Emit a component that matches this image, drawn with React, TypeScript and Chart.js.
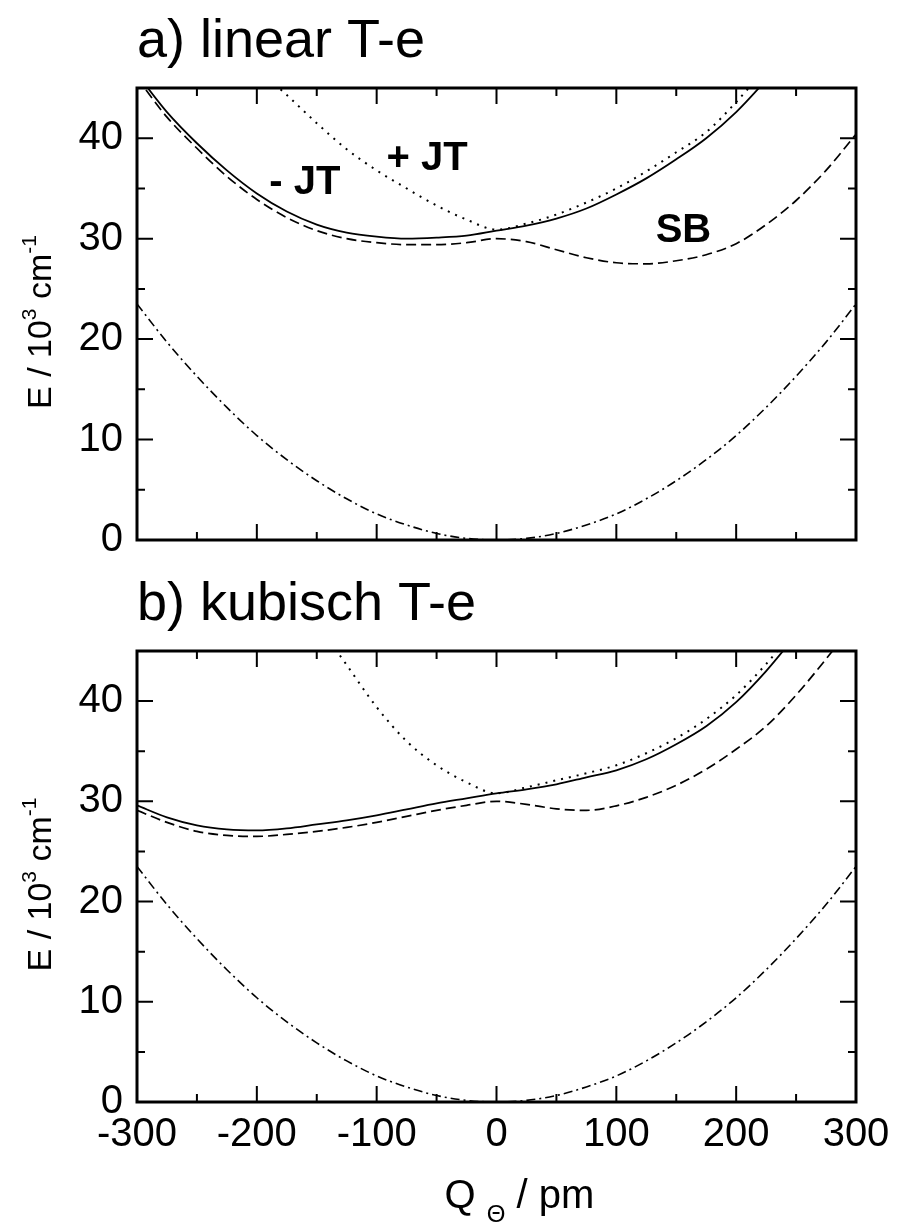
import React, { useEffect, useRef } from 'react';
import { Chart, registerables } from 'chart.js';

Chart.register(...registerables);

const FONT = '"Liberation Sans", Arial, Helvetica, sans-serif';

// Q_Θ sampling (pm)
const qFull = [-300, -275, -250, -225, -200, -175, -150, -125, -100, -75, -50, -25, 0, 25, 50, 75, 100, 125, 150, 175, 200, 225, 250, 275, 300];
const qToRight250 = [-300, -275, -250, -225, -200, -175, -150, -125, -100, -75, -50, -25, 0, 25, 50, 75, 100, 125, 150, 175, 200, 225, 250];

// a) linear T-e  (E in 10^3 cm^-1)
const linSolidQ = qToRight250;
const linSolidE = [46.4, 42.6, 39.5, 36.8, 34.5, 32.7, 31.4, 30.6, 30.2, 30.0, 30.1, 30.3, 30.8, 31.3, 32.0, 33.0, 34.4, 36.0, 37.9, 40.0, 42.6, 45.8, 49.3];
const linDotQ = [-200, -175, -150, -125, -100, -75, -50, -25, 0, 25, 50, 75, 100, 125, 150, 175, 200, 225];
const linDotE = [47.0, 44.3, 41.5, 38.9, 36.8, 35.0, 33.3, 31.9, 30.9, 31.5, 32.4, 33.6, 35.0, 36.7, 38.6, 40.6, 43.6, 47.0];
const linDashQ = qFull;
const linDashE = [46.0, 42.1, 39.0, 36.2, 33.9, 32.1, 30.8, 30.0, 29.6, 29.4, 29.4, 29.6, 30.0, 29.7, 28.9, 28.1, 27.6, 27.5, 27.8, 28.4, 29.5, 31.4, 33.8, 36.8, 40.4];
const linGroundQ = qFull;
const linGroundE = [23.5, 19.7, 16.3, 13.2, 10.4, 8.0, 5.9, 4.1, 2.6, 1.5, 0.65, 0.16, 0, 0.16, 0.65, 1.5, 2.6, 4.1, 5.9, 8.0, 10.4, 13.2, 16.3, 19.7, 23.5];

// b) kubisch T-e
const kubSolidQ = qToRight250;
const kubSolidE = [29.6, 28.4, 27.6, 27.2, 27.1, 27.3, 27.7, 28.1, 28.6, 29.2, 29.8, 30.3, 30.8, 31.2, 31.7, 32.4, 33.1, 34.2, 35.7, 37.5, 39.9, 43.0, 46.6];
const kubDotQ = [-150, -125, -100, -75, -50, -25, 0, 25, 50, 75, 100, 125, 150, 175, 200, 225, 250];
const kubDotE = [47.8, 43.6, 39.4, 36.0, 33.6, 31.9, 30.8, 31.4, 32.1, 32.8, 33.6, 34.8, 36.3, 38.2, 40.6, 43.7, 47.3];
const kubDashQ = qFull;
const kubDashE = [29.1, 27.9, 27.0, 26.6, 26.5, 26.7, 27.0, 27.4, 27.9, 28.5, 29.1, 29.6, 30.0, 29.7, 29.25, 29.1, 29.55, 30.4, 31.6, 33.2, 35.2, 37.5, 40.6, 44.2, 48.0];
const kubGroundQ = qFull;
const kubGroundE = [23.5, 19.7, 16.3, 13.2, 10.4, 8.0, 5.9, 4.1, 2.6, 1.5, 0.65, 0.16, 0, 0.16, 0.65, 1.5, 2.6, 4.1, 5.9, 8.0, 10.4, 13.2, 16.3, 19.7, 23.5];

// axes
const X_MIN = -300;
const X_MAX = 300;
const Y_MIN = 0;
const Y_MAX = 45;
const xLabelTicks = [-300, -200, -100, 0, 100, 200, 300];
const yLabelTicks = [0, 10, 20, 30, 40];
const xMajor = [-300, -200, -100, 0, 100, 200, 300];
const xMinor = [-250, -150, -50, 50, 150, 250];
const yMajor = [0, 10, 20, 30, 40];
const yMinor = [5, 15, 25, 35, 45];

// curve labels in panel a)
const linLabels = [
  { text: '- JT', q: -160, e: 35.5 },
  { text: '+ JT', q: -58, e: 37.9 },
  { text: 'SB', q: 156, e: 30.8 },
];

type Lbl = { text: string; q: number; e: number };

const pts = (xs: number[], ys: number[]) => xs.map((x, i) => ({ x, y: ys[i] }));

const curve = (xs: number[], ys: number[], dash: number[], width: number) => ({
  data: pts(xs, ys),
  borderColor: '#000',
  borderWidth: width,
  borderDash: dash,
  pointRadius: 0,
  fill: false,
  cubicInterpolationMode: 'monotone' as const,
});

const DASH = [10, 5];
const DOT = [2, 6];
const DASHDOT = [9, 4, 2, 4];

const framePlugin = {
  id: 'frameDecor',
  afterDatasetsDraw(chart: any, _args: any, opts: any) {
    const { ctx, chartArea: a, scales } = chart;
    const x = scales.x;
    const y = scales.y;
    ctx.save();
    ctx.strokeStyle = '#000';
    ctx.fillStyle = '#000';
    ctx.lineCap = 'butt';
    ctx.lineWidth = 2;
    const tick = (vals: number[], len: number) => {
      vals.forEach((v) => {
        const px = x.getPixelForValue(v);
        ctx.beginPath();
        ctx.moveTo(px, a.bottom);
        ctx.lineTo(px, a.bottom - len);
        ctx.moveTo(px, a.top);
        ctx.lineTo(px, a.top + len);
        ctx.stroke();
      });
    };
    const ytick = (vals: number[], len: number) => {
      vals.forEach((v) => {
        const py = y.getPixelForValue(v);
        ctx.beginPath();
        ctx.moveTo(a.left, py);
        ctx.lineTo(a.left + len, py);
        ctx.moveTo(a.right, py);
        ctx.lineTo(a.right - len, py);
        ctx.stroke();
      });
    };
    tick(xMajor, 16);
    tick(xMinor, 8);
    ytick(yMajor, 16);
    ytick(yMinor, 8);
    ctx.lineWidth = 3;
    ctx.strokeRect(a.left, a.top, a.right - a.left, a.bottom - a.top);

    // panel title
    ctx.textAlign = 'left';
    ctx.textBaseline = 'alphabetic';
    ctx.font = `54px ${FONT}`;
    ctx.fillText(opts.title, a.left, a.top - 31);

    // curve labels
    ctx.font = `bold 40px ${FONT}`;
    ctx.textAlign = 'center';
    ctx.textBaseline = 'middle';
    (opts.labels as Lbl[]).forEach((l) => {
      ctx.fillText(l.text, x.getPixelForValue(l.q), y.getPixelForValue(l.e));
    });

    // y-axis title: E / 10^3 cm^-1
    const F = 34;
    const S = 21;
    ctx.save();
    ctx.translate(51, (a.top + a.bottom) / 2 + 8);
    ctx.rotate(-Math.PI / 2);
    ctx.textAlign = 'left';
    ctx.textBaseline = 'alphabetic';
    const parts = [
      { t: 'E / 10', f: F, dy: 0 },
      { t: '3', f: S, dy: -15 },
      { t: ' cm', f: F, dy: 0 },
      { t: '-1', f: S, dy: -15 },
    ];
    let total = 0;
    parts.forEach((p) => {
      ctx.font = `${p.f}px ${FONT}`;
      total += ctx.measureText(p.t).width;
    });
    let cx = -total / 2;
    parts.forEach((p) => {
      ctx.font = `${p.f}px ${FONT}`;
      ctx.fillText(p.t, cx, p.dy);
      cx += ctx.measureText(p.t).width;
    });
    ctx.restore();

    // x-axis title: Q_Θ / pm
    if (opts.xTitle) {
      ctx.textAlign = 'left';
      ctx.textBaseline = 'alphabetic';
      const base = a.bottom + 106;
      let px = (a.left + a.right) / 2 - 52;
      ctx.font = `40px ${FONT}`;
      ctx.fillText('Q', px, base);
      px += ctx.measureText('Q ').width;
      ctx.font = `24px ${FONT}`;
      ctx.fillText('\u0398', px, base + 14);
      px += ctx.measureText('\u0398').width;
      ctx.font = `40px ${FONT}`;
      ctx.fillText(' / pm', px, base);
    }
    ctx.restore();
  },
};

type PanelProps = {
  top: number;
  height: number;
  padTop: number;
  padBottom: number;
  xHeight: number;
  showXLabels: boolean;
  title: string;
  labels: Lbl[];
  xTitle: boolean;
  datasets: any[];
};

function Panel(p: PanelProps) {
  const ref = useRef<HTMLCanvasElement | null>(null);
  useEffect(() => {
    if (!ref.current) return;
    const tickFont = { family: FONT, size: 40 };
    const chart = new Chart(ref.current, {
      type: 'line',
      data: { datasets: p.datasets },
      plugins: [framePlugin],
      options: {
        animation: false,
        responsive: false,
        devicePixelRatio: 1,
        layout: { padding: { left: 0, right: 42, top: p.padTop, bottom: p.padBottom } },
        plugins: {
          legend: { display: false },
          tooltip: { enabled: false },
          title: { display: false },
          frameDecor: { title: p.title, labels: p.labels, xTitle: p.xTitle },
        } as any,
        scales: {
          x: {
            type: 'linear',
            min: X_MIN,
            max: X_MAX,
            afterBuildTicks: (s: any) => {
              s.ticks = xLabelTicks.map((v) => ({ value: v }));
            },
            afterFit: (s: any) => {
              s.height = p.xHeight;
              s.paddingLeft = 0;
              s.paddingRight = 0;
            },
            ticks: {
              display: p.showXLabels,
              font: tickFont,
              color: '#000',
              padding: 9,
              maxRotation: 0,
              autoSkip: false,
            },
            grid: { display: false, drawTicks: false },
            border: { display: false },
          },
          y: {
            type: 'linear',
            min: Y_MIN,
            max: Y_MAX,
            afterBuildTicks: (s: any) => {
              s.ticks = yLabelTicks.map((v) => ({ value: v }));
            },
            afterFit: (s: any) => {
              s.width = 137;
              s.paddingTop = 0;
              s.paddingBottom = 0;
            },
            ticks: { font: tickFont, color: '#000', padding: 14 },
            grid: { display: false, drawTicks: false },
            border: { display: false },
          },
        },
      } as any,
    });
    return () => chart.destroy();
  }, []);
  return (
    <canvas
      ref={ref}
      width={898}
      height={p.height}
      style={{ position: 'absolute', left: 0, top: p.top, width: 898, height: p.height }}
    />
  );
}

export default function App() {
  const linSets = [
    curve(linGroundQ, linGroundE, DASHDOT, 1.6),
    curve(linDashQ, linDashE, DASH, 1.7),
    curve(linDotQ, linDotE, DOT, 2),
    curve(linSolidQ, linSolidE, [], 1.8),
  ];
  const kubSets = [
    curve(kubGroundQ, kubGroundE, DASHDOT, 1.6),
    curve(kubDashQ, kubDashE, DASH, 1.7),
    curve(kubDotQ, kubDotE, DOT, 2),
    curve(kubSolidQ, kubSolidE, [], 1.8),
  ];
  return (
    <div style={{ position: 'absolute', left: 0, top: 0, width: 898, height: 1226, background: '#fff' }}>
      <Panel
        top={0}
        height={560}
        padTop={88}
        padBottom={20}
        xHeight={0}
        showXLabels={false}
        title="a) linear T-e"
        labels={linLabels}
        xTitle={false}
        datasets={linSets}
      />
      <Panel
        top={560}
        height={666}
        padTop={91}
        padBottom={54}
        xHeight={70}
        showXLabels={true}
        title="b) kubisch T-e"
        labels={[]}
        xTitle={true}
        datasets={kubSets}
      />
    </div>
  );
}
